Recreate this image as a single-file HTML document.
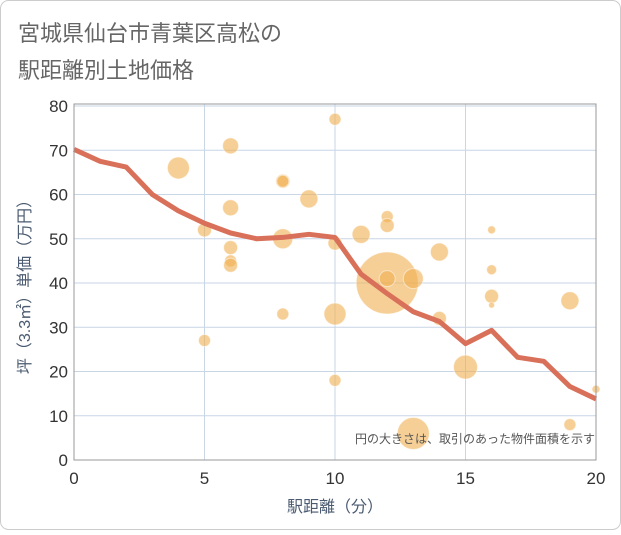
<!DOCTYPE html>
<html><head><meta charset="utf-8"><style>
body{margin:0;background:#fff;}
svg text{font-family:"Liberation Sans","Noto Sans CJK JP",sans-serif;}
</style></head><body>
<svg id="c" width="621" height="530" xmlns="http://www.w3.org/2000/svg">
<rect x="0.5" y="0.5" width="620" height="529" rx="8" fill="#fff" stroke="#ccc"/>
<text x="18" y="41" font-size="22" fill="#666">宮城県仙台市青葉区高松の</text>
<text x="18" y="78" font-size="22" fill="#666">駅距離別土地価格</text>
<g id="grid"></g>
<g id="bubbles"></g>
<g id="line"></g>
<g id="axes"></g>
<text x="595" y="443" font-size="12" fill="#555" text-anchor="end">円の大きさは、取引のあった物件面積を示す</text>
<text x="335" y="512" font-size="16" fill="#4a5a70" text-anchor="middle">駅距離（分）</text>
<text transform="translate(30,283) rotate(-90)" font-size="16" fill="#4a5a70" text-anchor="middle">坪（3.3㎡）単価（万円）</text>
</svg>
<script>
const xTicks=[0,5,10,15,20];
const yTicks=[0,10,20,30,40,50,60,70,80];
const bubbleX=[4,5,5,6,6,6,6,6,8,8,8,8,9,10,10,10,10,11,12,12,12,12,13,13,14,14,15,16,16,16,16,19,19,20];
const bubbleY=[66,52,27,71,57,48,45,44,63,63,50,33,59,77,49,33,18,51,55,53,40,41,41,6,47,32,21,52,43,37,35,36,8,16];
const bubbleR=[11,7,6,8,8,7,6,7,7,6,10,6,9,6,7,11,6,9,6,7,31,8,10,16,9,7,12,4,5,7,3,9,6,4];
const lineX=[0,1,2,3,4,5,6,7,8,9,10,11,12,13,14,15,16,17,18,19,20];
const lineY=[70.2,67.5,66.2,60,56.3,53.5,51.3,50,50.3,51,50.3,42,37.6,33.5,31.3,26.3,29.3,23.2,22.3,16.6,13.8];
const NS="http://www.w3.org/2000/svg";
const X0=74,X1=596,Y0=460,Y1=106;
const sx=v=>X0+(X1-X0)*v/20, sy=v=>Y0-(Y0-Y1)*v/80;
function mk(t,a,p){const e=document.createElementNS(NS,t);for(const k in a)e.setAttribute(k,a[k]);p.appendChild(e);return e;}
const g=document.getElementById('grid');
for(const t of yTicks){const l=mk('line',{x1:X0,x2:X1,y1:sy(t),y2:sy(t),stroke:'#c8d6e6','stroke-width':1},g);

}
for(const t of xTicks){const l=mk('line',{x1:sx(t),x2:sx(t),y1:Y1-2,y2:Y0,stroke:'#c8d6e6','stroke-width':1},g);

}
const b=document.getElementById('bubbles');
bubbleX.forEach((x,i)=>{const c=mk('circle',{cx:sx(x),cy:sy(bubbleY[i]),r:bubbleR[i],fill:'rgba(240,175,80,0.6)',stroke:'rgba(255,255,255,0.5)','stroke-width':1},b);

});
const lg=document.getElementById('line');
const p=mk('polyline',{points:lineX.map((x,i)=>sx(x)+','+sy(lineY[i])).join(' '),fill:'none',stroke:'#d9705a','stroke-width':5,'stroke-linejoin':'round'},lg);


const ax=document.getElementById('axes');
const fr=mk('rect',{x:X0,y:Y1-2,width:X1-X0,height:Y0-Y1+2,fill:'none',stroke:'#999','stroke-width':1},ax);


for(const t of yTicks){const e=mk('text',{x:X0-6,y:sy(t)+6,'font-size':17,fill:'#333','text-anchor':'end'},ax);e.textContent=t;

}
for(const t of xTicks){const e=mk('text',{x:sx(t),y:Y0+24,'font-size':17,fill:'#333','text-anchor':'middle'},ax);e.textContent=t;

}
</script>
</body></html>
